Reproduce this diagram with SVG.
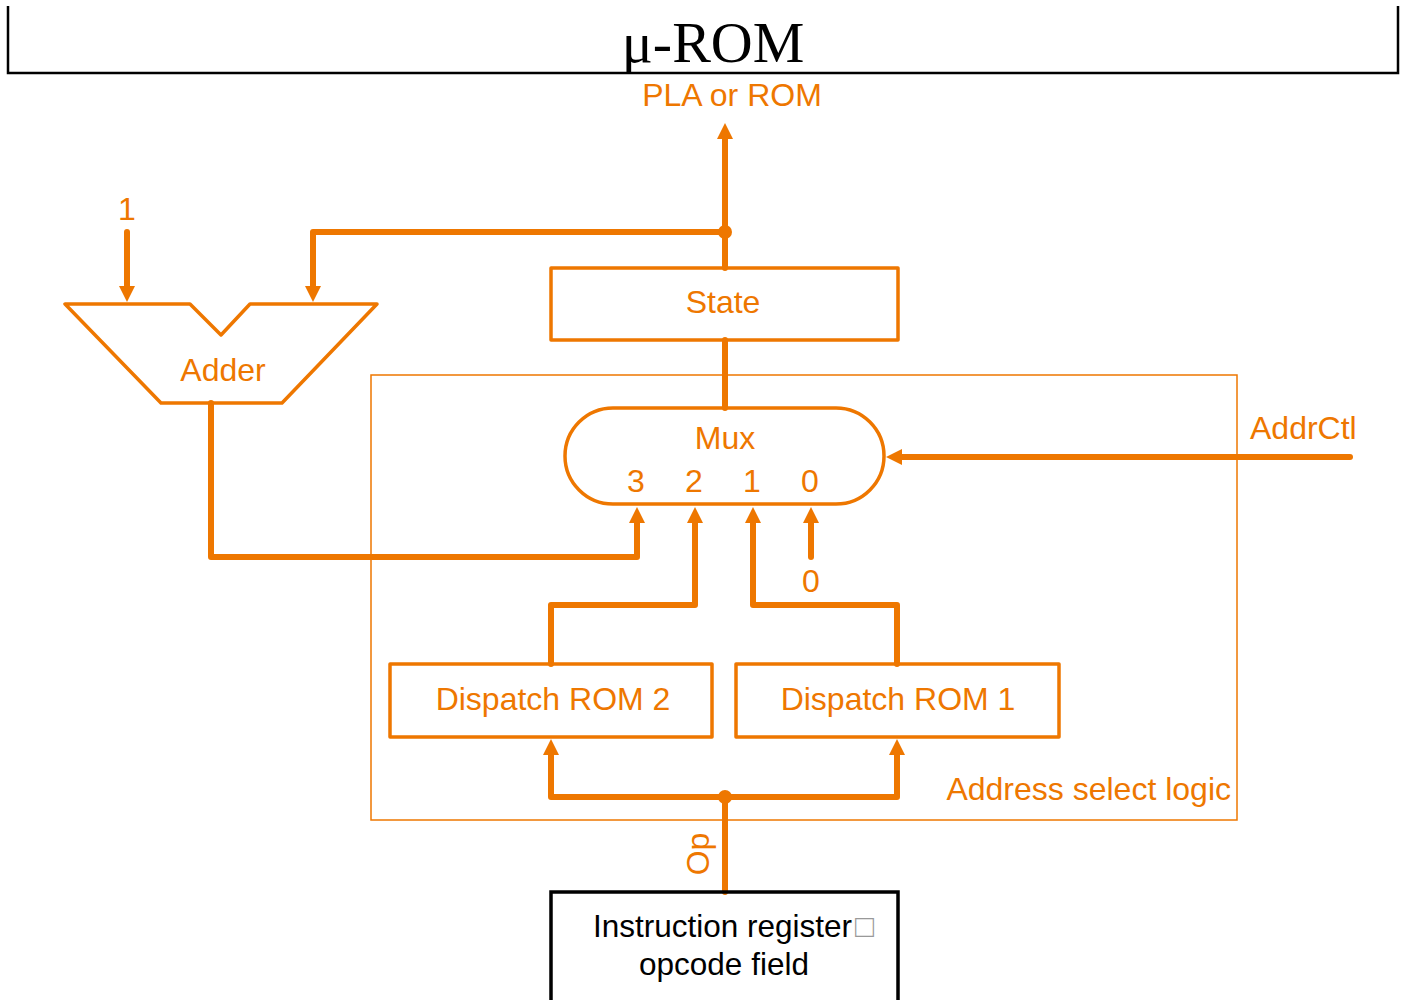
<svg xmlns="http://www.w3.org/2000/svg" width="1403" height="1000" viewBox="0 0 1403 1000">
<style>
.o{fill:#EE7700;font-family:"Liberation Sans",Arial,sans-serif;font-size:32px}
.k{fill:#000;font-family:"Liberation Sans",Arial,sans-serif;font-size:31.5px}
.box{fill:none;stroke:#EE7700;stroke-width:3.5;stroke-linejoin:round}
.w{fill:none;stroke:#EE7700;stroke-width:6;stroke-linejoin:round;stroke-linecap:round}
.wa{fill:none;stroke:#EE7700;stroke-width:6;stroke-linejoin:round;stroke-linecap:round;marker-end:url(#ah)}
</style>
<defs>
<marker id="ah" markerUnits="userSpaceOnUse" viewBox="0 0 16 16" refX="4" refY="8" markerWidth="16" markerHeight="16" orient="auto">
<path d="M0,0 L16,8 L0,16 z" fill="#EE7700"/>
</marker>
</defs>
<rect width="1403" height="1000" fill="#fff"/>
<g id="title">
<path d="M8,6 V73 H1398 V6" fill="none" stroke="#000" stroke-width="2.5"/>
<text x="713" y="62" text-anchor="middle" font-family="Liberation Serif,Times New Roman,serif" font-size="58" fill="#000">μ-ROM</text>
</g>
<g id="address-select-logic">
<rect x="371" y="375" width="866" height="445" fill="none" stroke="#EE7700" stroke-width="1.5"/>
<text class="o" x="1231" y="800" text-anchor="end">Address select logic</text>
</g>
<g id="connectors">
<path class="wa" d="M725,268 V135"/>
<path class="wa" d="M725,232 H313 V290"/>
<path class="wa" d="M127,232 V290"/>
<path class="wa" d="M211,403 V557 H637 V519"/>
<path class="wa" d="M551,664 V605 H695 V519"/>
<path class="wa" d="M897,664 V605 H753 V519"/>
<path class="wa" d="M811,557 V519"/>
<path class="w" d="M725,340 V408"/>
<path class="wa" d="M1350,457 H898"/>
<path class="w" d="M725,892 V797"/>
<path class="wa" d="M725,797 H551 V751"/>
<path class="wa" d="M725,797 H897 V751"/>
<circle cx="725" cy="232" r="7" fill="#EE7700"/>
<circle cx="725" cy="797" r="7" fill="#EE7700"/>
<text class="o" x="732" y="106" text-anchor="middle">PLA or ROM</text>
<text class="o" x="127" y="220" text-anchor="middle">1</text>
<text class="o" x="1250" y="439">AddrCtl</text>
<text class="o" x="811" y="592" text-anchor="middle">0</text>
<text class="o" transform="translate(709,854) rotate(-90)" text-anchor="middle">Op</text>
</g>
<g id="adder">
<path class="box" d="M65,304 H190 L221,335 L250,304 H377 L282,403 H161 Z"/>
<text class="o" x="223" y="381" text-anchor="middle">Adder</text>
</g>
<g id="state">
<rect class="box" x="551" y="268" width="347" height="72"/>
<text class="o" x="723" y="313" text-anchor="middle">State</text>
</g>
<g id="mux">
<rect class="box" x="565" y="408" width="319" height="96" rx="48" ry="48"/>
<text class="o" x="725" y="449" text-anchor="middle">Mux</text>
<text class="o" x="636" y="492" text-anchor="middle">3</text>
<text class="o" x="694" y="492" text-anchor="middle">2</text>
<text class="o" x="752" y="492" text-anchor="middle">1</text>
<text class="o" x="810" y="492" text-anchor="middle">0</text>
</g>
<g id="dispatch-rom-2">
<rect class="box" x="390" y="664" width="322" height="73"/>
<text class="o" x="553" y="710" text-anchor="middle">Dispatch ROM 2</text>
</g>
<g id="dispatch-rom-1">
<rect class="box" x="736" y="664" width="323" height="73"/>
<text class="o" x="898" y="710" text-anchor="middle">Dispatch ROM 1</text>
</g>
<g id="instruction-register">
<rect x="551" y="892" width="347" height="120" fill="none" stroke="#000" stroke-width="3.5"/>
<text class="k" x="593" y="937">Instruction register<tspan fill="#999" dx="3">□</tspan></text>
<text class="k" x="724" y="975" text-anchor="middle">opcode field</text>
</g>
</svg>
